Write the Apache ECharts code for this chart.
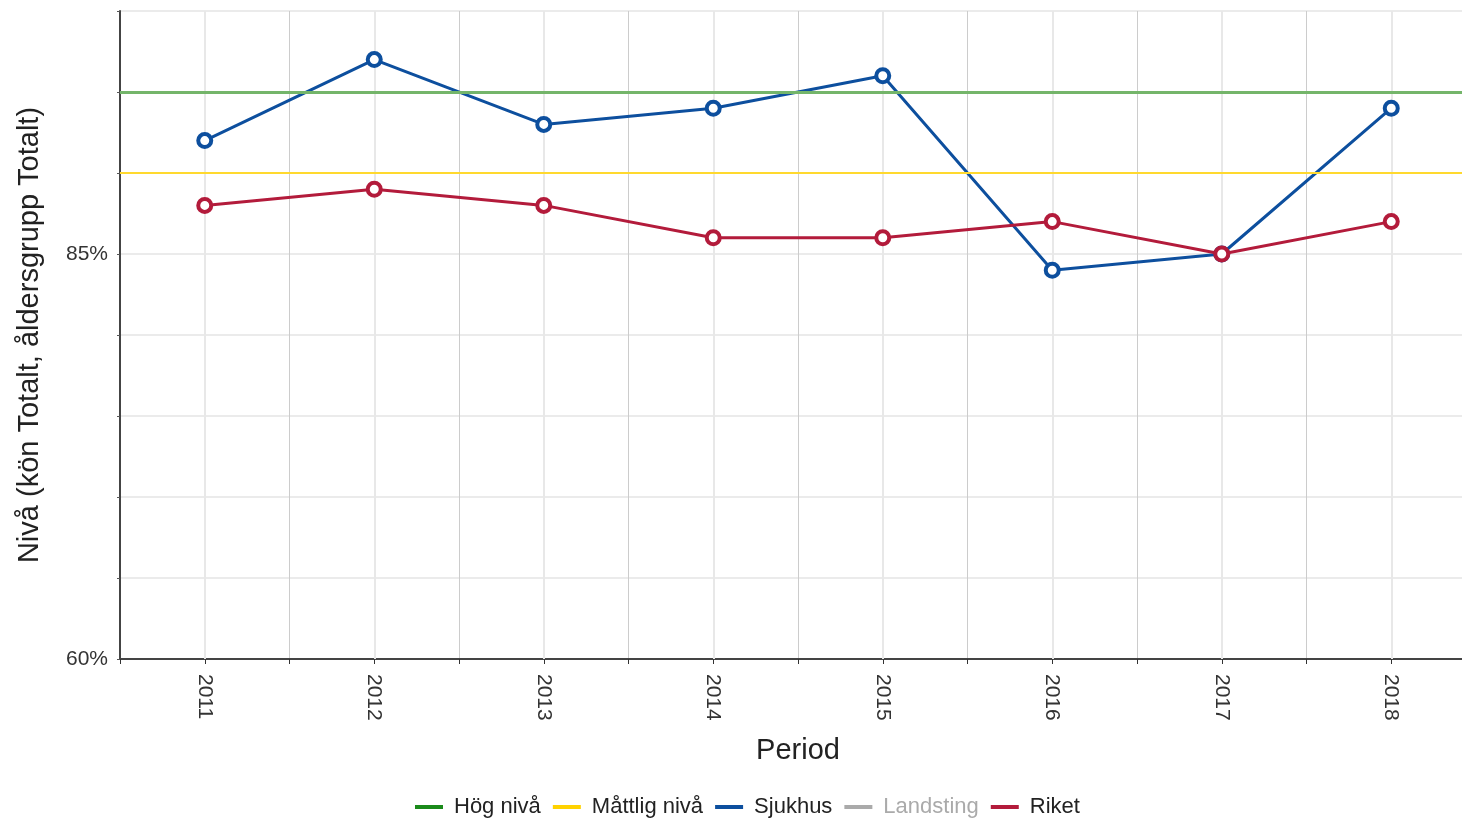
<!DOCTYPE html>
<html><head><meta charset="utf-8">
<script src="https://cdn.jsdelivr.net/npm/echarts@6/dist/echarts.min.js"></script>
<style>html,body{margin:0;padding:0;background:#fff;}#c{width:1462px;height:819px;}</style>
</head><body><div id="c"></div>
<script>
const categories = ['2011','2012','2013','2014','2015','2016','2017','2018'];
const sjukhus = [92, 97, 93, 94, 96, 84, 85, 94];
const riket = [88, 89, 88, 86, 86, 87, 85, 87];
const landsting = [];
const hogNiva = 95;
const mattligNiva = 90;
const yLabelValues = [60, 85];

const BLUE = '#0d4f9e', RED = '#b31b3b';
const chart = echarts.init(document.getElementById('c'));
const font = 'Liberation Sans, Arial, sans-serif';
chart.setOption({
  animation: false,
  textStyle: {fontFamily: font},
  grid: {left: 120, top: 11, width: 1356, height: 648, containLabel: false, outerBoundsMode: 'none'},
  legend: {
    top: 791, left: 410,
    itemWidth: 28, itemHeight: 4, itemGap: 12,
    icon: 'rect',
    textStyle: {fontSize: 22, color: '#222', fontFamily: font, padding: [0, 0, 0, 6]},
    inactiveColor: '#aaa',
    selected: {'Landsting': false},
    data: [
      {name: 'Hög nivå', itemStyle: {color: '#1a8a1a', borderWidth: 0}},
      {name: 'Måttlig nivå', itemStyle: {color: '#ffd200', borderWidth: 0}},
      {name: 'Sjukhus', itemStyle: {color: BLUE, borderWidth: 0}},
      {name: 'Landsting', itemStyle: {color: '#999', borderWidth: 0}},
      {name: 'Riket', itemStyle: {color: RED, borderWidth: 0}}
    ]
  },
  xAxis: [{
    type: 'category', data: categories, boundaryGap: true,
    name: 'Period', nameLocation: 'middle', nameGap: 77,
    nameTextStyle: {fontSize: 29, color: '#222'},
    axisLine: {lineStyle: {color: '#444', width: 2}},
    axisTick: {show: true, length: 5, lineStyle: {color: '#333'}},
    axisLabel: {rotate: -90, fontSize: 21, color: '#333', margin: 15},
    splitLine: {show: true, lineStyle: {color: '#cccccc', width: 1}}
  }, {
    type: 'category', data: categories, boundaryGap: true, position: 'bottom',
    axisLine: {show: false},
    axisTick: {show: true, alignWithLabel: true, length: 5, lineStyle: {color: '#333'}},
    axisLabel: {show: false}, splitLine: {show: false}
  }],
  yAxis: {
    type: 'value', min: 60, max: 100, interval: 5,
    name: 'Nivå (kön Totalt, åldersgrupp Totalt)', nameLocation: 'middle', nameGap: 76,
    nameTextStyle: {fontSize: 29, color: '#222'},
    axisLine: {show: true, lineStyle: {color: '#444', width: 2}},
    axisTick: {show: true, length: 3, lineStyle: {color: '#555'}},
    axisLabel: {fontSize: 21, color: '#333', margin: 12,
      formatter: v => yLabelValues.includes(v) ? v + '%' : ''},
    splitLine: {show: true, lineStyle: {color: '#ebebeb', width: 2}}
  },
  series: [
    {name: 'centerLines', type: 'line', data: [], z: 1, silent: true,
     markLine: {silent: true, symbol: 'none', label: {show: false}, z: 1,
       lineStyle: {color: '#e8e8e8', width: 2, type: 'solid'},
       data: categories.map(c => ({xAxis: c}))}},
    {name: 'Hög nivå', type: 'line', data: [], color: '#1a8a1a', silent: true, z: 2,
     markLine: {silent: true, symbol: 'none', label: {show: false},
       lineStyle: {color: '#74b56a', width: 3, type: 'solid'}, data: [{yAxis: hogNiva}]}},
    {name: 'Måttlig nivå', type: 'line', data: [], color: '#ffd200', silent: true, z: 2,
     markLine: {silent: true, symbol: 'none', label: {show: false},
       lineStyle: {color: '#ffd92e', width: 2, type: 'solid'}, data: [{yAxis: mattligNiva}]}},
    {name: 'Landsting', type: 'line', data: landsting, color: '#999'},
    {name: 'Sjukhus', type: 'line', data: sjukhus, color: BLUE, z: 4,
     lineStyle: {width: 3, color: BLUE}, symbol: 'circle', symbolSize: 13,
     itemStyle: {color: '#fff', borderColor: BLUE, borderWidth: 4}},
    {name: 'Riket', type: 'line', data: riket, color: RED, z: 5,
     lineStyle: {width: 3, color: RED}, symbol: 'circle', symbolSize: 13,
     itemStyle: {color: '#fff', borderColor: RED, borderWidth: 4}}
  ]
});
</script></body></html>
